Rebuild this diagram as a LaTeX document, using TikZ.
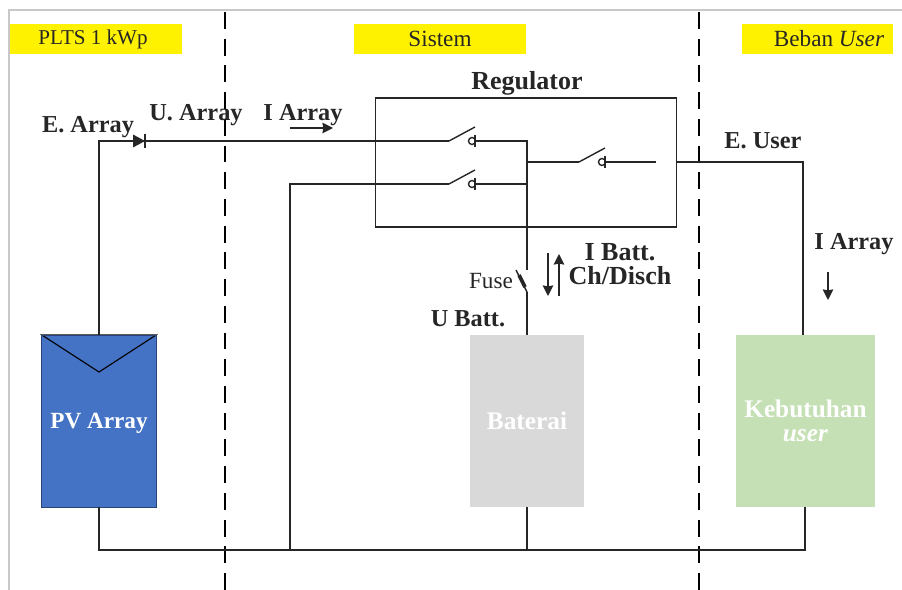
\documentclass[tikz,border=0pt]{standalone}
\usepackage{fontspec}
\setmainfont{Liberation Serif}
\usetikzlibrary{arrows.meta}
\definecolor{pvblue}{HTML}{4472C4}
\definecolor{battgray}{HTML}{D9D9D9}
\definecolor{usergreen}{HTML}{C5E0B4}
\definecolor{framegray}{HTML}{C8C8C8}
\tikzset{
	headbox/.style={fill=yellow, minimum height=21pt, inner sep=0pt, text=black!85, font=\fontsize{16.5}{18}\selectfont},
	label/.style={font=\bfseries\fontsize{17.3}{20}\selectfont, text=black!85},
	block/.style={minimum height=122pt, inner sep=0pt, text=white, align=center, font=\bfseries\fontsize{18}{17.5}\selectfont},
	wire/.style={line width=1pt, black!85},
	zone/.style={line width=1.3pt, dash pattern=on 12pt off 7pt},
}
\begin{document}
\begin{tikzpicture}[>={Stealth[length=7.5pt,width=7.5pt,inset=0.6pt]}, x=0.025cm, y=-0.025cm]
	\useasboundingbox (0,0) rectangle (902,590);
	\draw[framegray, line width=1.2pt] (9,590) -- (9,10) -- (902,10);
	% header
	\node[headbox, minimum width=122pt] (plts) at (96,39) {};
	\node[headbox, font=\fontsize{15}{18}\selectfont] (pltstext) at (93,39) {PLTS 1 kWp};
	\node[headbox, minimum width=122pt] (sistem) at (440,39) {Sistem};
	\node[headbox, minimum width=107pt] (beban) at (817.5,39) {};
	\node[headbox] (bebantext) at (829,39) {Beban \textit{User}};
	\coordinate (zoneAtop) at (225,12);
	\coordinate (zoneAbot) at (225,590);
	\coordinate (zoneBtop) at (699,12);
	\coordinate (zoneBbot) at (699,590);
	\draw[zone] (zoneAtop) -- (zoneAbot);
	\draw[zone] (zoneBtop) -- (zoneBbot);
	% blocks
	\node[block, fill=pvblue, minimum width=81pt] (pv) at (99,421) {};
	\node[text=white, font=\bfseries\fontsize{16.5}{18}\selectfont] (pvtext) at (99,423) {PV Array};
	\node[block, fill=battgray, minimum width=81.5pt] (batt) at (527,421) {Baterai};
	\node[block, fill=usergreen, minimum width=99pt] (user) at (805.5,421) {Kebutuhan\\\textit{user}};
	\draw[line width=0.8pt] (pv.north west) -- (99,372) -- (pv.north east) -- cycle;
	\draw[line width=0.5pt, pvblue!60!black] (pv.north west) rectangle (pv.south east);
	% regulator
	\node[draw, wire, minimum width=214pt, minimum height=91.5pt, inner sep=0pt] (reg) at (526,162.5) {};
	\node[label, font=\bfseries\fontsize{18.5}{20}\selectfont] (regtext) at (527,83) {Regulator};
	% switches
	\foreach \name/\sx/\sy in {sa/449/141, sb/449/184, sc/579/162} {
		\coordinate (\name-in) at (\sx,\sy);
		\coordinate (\name-out) at (\sx+26,\sy);
		\draw[wire] (\name-in) -- ++(26,-14);
		\draw[wire] (\name-out) ++(-3,0) circle (3.5);
		\draw[wire] (\name-out) ++(0,-6) -- ++(0,12);
	}
	% wires
	\coordinate (jtop) at (527,141);
	\coordinate (jmid) at (527,162);
	\coordinate (jlow) at (527,184);
	\coordinate (fusetop) at (527,270);
	\coordinate (fusebot) at (527,292);
	\coordinate (reglow) at (290,184);
	\coordinate (ctend) at (656,162);
	\draw[wire] (pv.north) -- (pv.north |- sa-in) -- (sa-in);
	\draw[wire] (sa-out) -- (jtop) -- (fusetop);
	\draw[wire] (sb-out) -- (jlow);
	\draw[wire] (jmid) -- (sc-in);
	\draw[wire] (sc-out) -- (ctend);
	\draw[wire] (fusebot) -- (batt.north);
	\draw[wire] (sb-in) -- (reglow) -- (290,550);
	\draw[wire] (reg.east |- jmid) -- (803,162) -- (803,335);
	\draw[wire] (pv.south) -- (99,550) -- (805,550) -- (805,507);
	\draw[wire] (batt.south) -- (527,550);
	% diode
	\fill[black!85] (133,134.5) -- (145,141) -- (133,147.5) -- cycle;
	\draw[wire] (145,134) -- (145,148);
	% fuse
	\draw[wire] (516,270) -- (fusebot);
	\draw[line width=2.6pt, black!85] (519,275) -- (525,287);
	\node[font=\fontsize{16.5}{18}\selectfont, text=black!85] (fuse) at (491,281) {Fuse};
	% labels and arrows
	\node[label] (earray) at (88,127) {E. Array};
	\node[label] (uarray) at (196,115) {U. Array};
	\node[label] (iarray) at (303,115) {I Array};
	\node[label] (euser) at (763,141) {E. User};
	\node[label] (iuser) at (854,244) {I Array};
	\node[label] (ubatt) at (468,319) {U Batt.};
	\node[label, font=\bfseries\fontsize{18.5}{17.5}\selectfont, align=center] (ibatt) at (620,264) {I Batt.\\Ch/Disch};
	\coordinate (ia1) at (290,128);
	\coordinate (ia2) at (333,128);
	\coordinate (iu1) at (828,272);
	\coordinate (iu2) at (828,300);
	\coordinate (ib1) at (548,253);
	\coordinate (ib2) at (548,296);
	\coordinate (ib3) at (559,296);
	\coordinate (ib4) at (559,254);
	\draw[->, wire] (ia1) -- (ia2);
	\draw[->, wire] (iu1) -- (iu2);
	\draw[->, wire] (ib1) -- (ib2);
	\draw[->, wire] (ib3) -- (ib4);
\end{tikzpicture}
\end{document}
